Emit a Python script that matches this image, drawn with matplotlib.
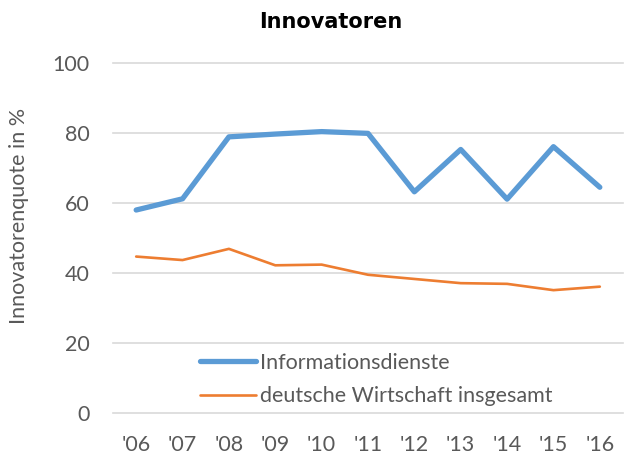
import matplotlib
matplotlib.use("Agg")
import matplotlib.pyplot as plt

# Daten
jahre = ["'06", "'07", "'08", "'09", "'10", "'11", "'12", "'13", "'14", "'15", "'16"]
informationsdienste = [58.0, 61.2, 78.9, 79.7, 80.4, 79.9, 63.2, 75.3, 61.1, 76.1, 64.5]
deutsche_wirtschaft = [44.7, 43.7, 46.9, 42.2, 42.4, 39.5, 38.3, 37.1, 36.9, 35.1, 36.1]
yticks = [0, 20, 40, 60, 80, 100]

grau = "#595959"
plt.rcParams["font.family"] = ["Lato", "DejaVu Sans"]
fs = 15.5

fig = plt.figure(figsize=(6.25, 4.54), dpi=100)
ax = fig.add_axes([0.1808, 0.0903, 0.816, 0.7709])

x = list(range(len(jahre)))
ax.plot(x, informationsdienste, color="#5B9BD5", lw=3.8, solid_capstyle="round",
        solid_joinstyle="round", label="Informationsdienste", zorder=3)
ax.plot(x, deutsche_wirtschaft, color="#ED7D31", lw=1.9, solid_capstyle="round",
        solid_joinstyle="round", label="deutsche Wirtschaft insgesamt", zorder=3)

ax.set_xlim(-0.5, len(jahre) - 0.5)
ax.set_ylim(0, 100)
ax.set_yticks(yticks)
ax.set_xticks(x)
ax.set_xticklabels(jahre)
ax.grid(axis="y", color="#D9D9D9", lw=1.2)
for gl in ax.get_ygridlines():
    gl.set_clip_on(False)
ax.set_axisbelow(True)
for s in ax.spines.values():
    s.set_visible(False)
ax.tick_params(axis="both", length=0, labelsize=fs, labelcolor=grau)
ax.tick_params(axis="y", pad=17)
ax.tick_params(axis="x", pad=16)

fig.text(0.030, 0.524, "Innovatorenquote in %", rotation=90, ha="center", va="center",
         fontsize=fs, color=grau)
fig.text(0.5296, 0.9515, "Innovatoren", ha="center", va="center",
         fontsize=15, fontweight="bold", family="DejaVu Sans", color="black")

leg = ax.legend(loc="center left", bbox_to_anchor=(200 / 625, 1 - 379.5 / 454),
                bbox_transform=fig.transFigure, frameon=False, fontsize=fs,
                handlelength=2.6, handletextpad=0.2, labelspacing=0.62,
                borderpad=0, borderaxespad=0)
for t in leg.get_texts():
    t.set_color(grau)

fig.savefig("out.png", dpi=100)
